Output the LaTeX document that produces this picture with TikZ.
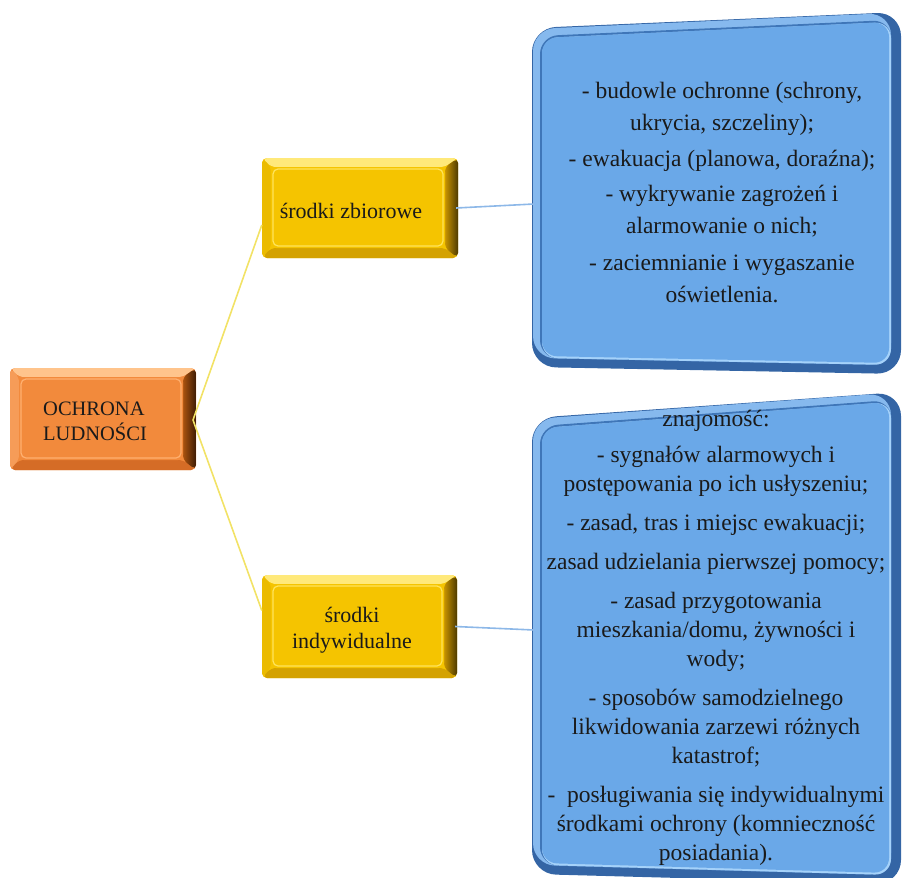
\documentclass[tikz,border=0pt]{standalone}
\usepackage{fontspec}
\setmainfont{Liberation Serif}
\usetikzlibrary{calc}
\definecolor{gface}{HTML}{F5C400}
\definecolor{gtop}{HTML}{FFE97A}
\definecolor{gleft}{HTML}{EBBB00}
\definecolor{gbot}{HTML}{D4A200}
\definecolor{gsideA}{HTML}{C89400}
\definecolor{gsideB}{HTML}{4E3A00}
\definecolor{gline}{HTML}{FFE45C}
\definecolor{oface}{HTML}{F28A3C}
\definecolor{otop}{HTML}{FFC48C}
\definecolor{oleft}{HTML}{F69C58}
\definecolor{obot}{HTML}{D56C26}
\definecolor{osideA}{HTML}{A9520F}
\definecolor{osideB}{HTML}{3E1C04}
\definecolor{oline}{HTML}{FFB070}
\definecolor{bA}{HTML}{3465A5}
\definecolor{bB}{HTML}{86B9EE}
\definecolor{bC}{HTML}{3F76B8}
\definecolor{bD}{HTML}{A5D2FA}
\definecolor{bE}{HTML}{6AA8E8}
\definecolor{yconn}{HTML}{F2E266}
\definecolor{bconn}{HTML}{8DB8E8}
\definecolor{txt}{HTML}{1A1A1A}
\tikzset{
  bevelbox/.style n args={7}{rectangle, rounded corners=5pt, inner sep=0pt, fill=#4,
    path picture={
      \coordinate (pnw) at (path picture bounding box.north west);
      \coordinate (pne) at (path picture bounding box.north east);
      \coordinate (psw) at (path picture bounding box.south west);
      \coordinate (pse) at (path picture bounding box.south east);
      \fill[#1] (pnw) -- (pne) -- ([shift={(-13pt,-9pt)}]pne) -- ([shift={(9pt,-9pt)}]pnw) -- cycle;
      \fill[#2] (pnw) -- ([shift={(9pt,-9pt)}]pnw) -- ([shift={(9pt,10pt)}]psw) -- (psw) -- cycle;
      \fill[#3] (psw) -- ([shift={(9pt,10pt)}]psw) -- ([shift={(-13pt,10pt)}]pse) -- (pse) -- cycle;
      \shade[left color=#5, right color=#6] ([shift={(-13pt,-9pt)}]pne) -- (pne) -- (pse) -- ([shift={(-13pt,10pt)}]pse) -- cycle;
      \fill[#4] ([shift={(9pt,-9pt)}]pnw) rectangle ([shift={(-13pt,10pt)}]pse);
      \draw[#7, line width=1.2pt] ([shift={(11pt,-11pt)}]pnw) rectangle ([shift={(-15pt,12pt)}]pse);
    }},
  goldbox/.style={bevelbox={gtop}{gleft}{gbot}{gface}{gsideA}{gsideB}{gline}},
  orangebox/.style={bevelbox={otop}{oleft}{obot}{oface}{osideA}{osideB}{oline}},
  boxtext/.style={text=txt, inner sep=0pt, align=center},
  yconnector/.style={draw=yconn, line width=1.6pt},
  bconnector/.style={draw=bconn, line width=1.6pt},
}
\begin{document}
\begin{tikzpicture}[x=1pt,y=-1pt]
\useasboundingbox (0,0) rectangle (903,878);

% blue panels (slight perspective)
\coordinate (a1) at (532,28);
\coordinate (a2) at (901,12);
\coordinate (a3) at (901,374);
\coordinate (a4) at (532,367);
\coordinate (c1) at (532,418);
\coordinate (c2) at (901,392);
\coordinate (c3) at (901,884);
\coordinate (c4) at (532,874);
\foreach \q in {a,c}{
  \foreach \l/\r/\t/\b/\c/\rad in {0/0/0/0/bA/24pt, 1/10/1/9/bB/22pt, 8/10/8/9/bC/18pt, 10/10/10/9/bD/16pt, 10/12/10/11/bE/15pt}{
    \fill[\c, rounded corners=\rad] ($(\q1)+(\l,\t)$) -- ($(\q2)+(-\r,\t)$) -- ($(\q3)+(-\r,-\b)$) -- ($(\q4)+(\l,-\b)$) -- cycle;
  }
}
\coordinate (btl) at (534,204);
\coordinate (bbl) at (534,630);

% main boxes
\node[orangebox, minimum width=186pt, minimum height=102pt] (och) at (103,419) {};
\node[goldbox, minimum width=196pt, minimum height=100pt] (sz) at (360,208) {};
\node[goldbox, minimum width=195pt, minimum height=103pt] (si) at (359.5,626.5) {};

% connectors
\coordinate (oj) at (193,420);
\draw[yconnector] (oj) -- ([yshift=-17pt]sz.west);
\draw[yconnector] (oj) -- ([yshift=16pt]si.west);
\draw[bconnector] ([xshift=-2pt]sz.east) -- (btl);
\draw[bconnector] ([xshift=-2pt]si.east) -- (bbl);

% texts (anchor base = baseline of the last line)
\node[boxtext, align=left, anchor=base west, font=\fontsize{20.5pt}{25pt}\selectfont] (tochr) at (43,440) {OCHRONA\\LUDNOŚCI};
\node[boxtext, anchor=base, font=\fontsize{22pt}{26pt}\selectfont] (tsz) at (351,218) {środki zbiorowe};
\node[boxtext, anchor=base, font=\fontsize{22pt}{26pt}\selectfont] (tsi) at (352,648) {środki\\indywidualne};

\node[boxtext, anchor=base, font=\fontsize{23.5pt}{32pt}\selectfont] (tzb) at (722,302)
 {- budowle ochronne (schrony,\\ ukrycia, szczeliny);\\[4pt]
  - ewakuacja (planowa, doraźna);\\[3pt]
  - wykrywanie zagrożeń i\\ alarmowanie o nich;\\[5pt]
  - zaciemnianie i wygaszanie\\ oświetlenia.};

\node[boxtext, anchor=base, font=\fontsize{23.5pt}{29pt}\selectfont] (tin) at (716,860)
 {znajomość:\\[7pt]
  - sygnałów alarmowych i\\ postępowania po ich usłyszeniu;\\[10pt]
  - zasad, tras i miejsc ewakuacji;\\[10pt]
  zasad udzielania pierwszej pomocy;\\[10pt]
  - zasad przygotowania\\ mieszkania/domu, żywności i\\ wody;\\[10pt]
  - sposobów samodzielnego\\ likwidowania zarzewi różnych\\ katastrof;\\[10pt]
  -\ \ posługiwania się indywidualnymi\\ środkami ochrony (komnieczność\\ posiadania).};
\end{tikzpicture}
\end{document}
